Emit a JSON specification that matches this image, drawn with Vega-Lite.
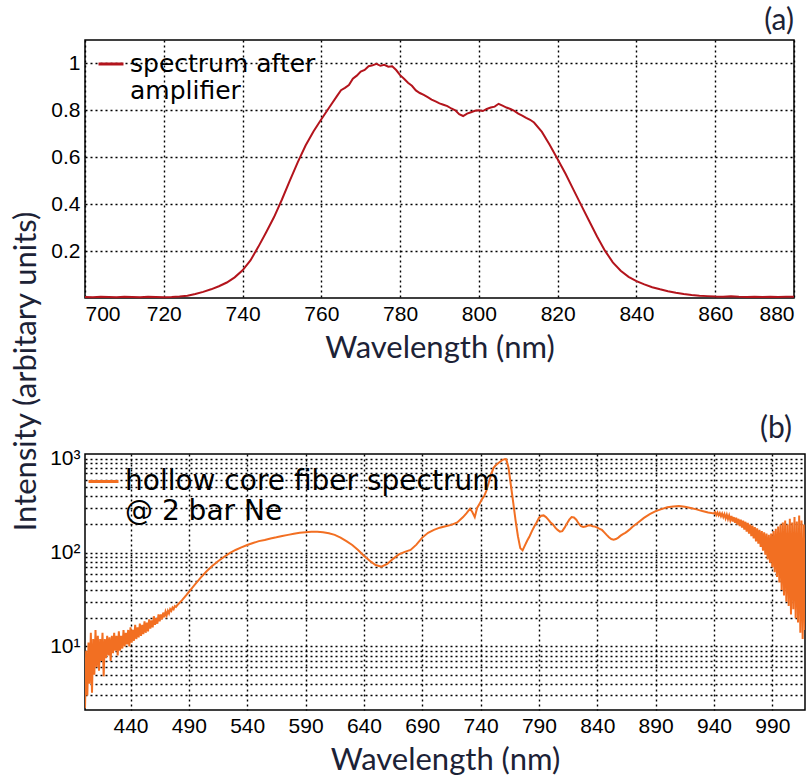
{
  "$schema": "https://vega.github.io/schema/vega-lite/v6.json",
  "padding": {"left": 10, "top": 5, "right": 0, "bottom": 0},
  "bounds": "flush",
  "spacing": 156,
  "title": {"text": "Intensity (arbitary units)", "orient": "left", "anchor": "middle", "frame": "bounds", "font": "Lato", "fontSize": 31, "fontWeight": "normal", "color": "#1c2236", "offset": 6, "dx": 19},
  "config": {
    "view": {"stroke": "black", "strokeWidth": 1.5},
    "axis": {"labelFont": "Liberation Sans", "labelFontSize": 21, "labelColor": "black", "titleFont": "Lato", "titleFontSize": 31, "titleFontWeight": "normal", "titleColor": "#1c2236", "grid": true, "gridColor": "black", "gridDash": [2, 3], "gridWidth": 1.4, "gridOpacity": 1, "domain": false, "ticks": false, "labelPadding": 5, "titlePadding": 9, "labelOverlap": false},
    "title": {"font": "Lato", "fontSize": 30, "fontWeight": "normal", "color": "#1c2236", "anchor": "end"},
    "legend": {"labelFont": "DejaVu Sans", "labelColor": "black", "labelLimit": 800, "symbolType": "stroke", "symbolStrokeWidth": 3, "padding": 0, "labelOffset": 5}
  },
  "datasets": {
    "amp": [
      {"wl":700,"I":0.004},{"wl":702,"I":0.003},{"wl":704,"I":0.005},{"wl":706,"I":0.004},{"wl":708,"I":0.003},{"wl":710,"I":0.005},{"wl":712,"I":0.004},{"wl":714,"I":0.003},{"wl":716,"I":0.005},{"wl":718,"I":0.004},{"wl":720,"I":0.003},{"wl":722,"I":0.004},{"wl":724,"I":0.006},{"wl":726,"I":0.010},{"wl":728,"I":0.017},{"wl":730,"I":0.026},{"wl":732,"I":0.037},{"wl":734,"I":0.050},{"wl":736,"I":0.066},{"wl":738,"I":0.088},{"wl":740,"I":0.118},{"wl":742,"I":0.160},{"wl":744,"I":0.218},{"wl":746,"I":0.280},{"wl":748,"I":0.345},{"wl":750,"I":0.420},{"wl":752,"I":0.500},{"wl":754,"I":0.578},{"wl":756,"I":0.650},{"wl":758,"I":0.710},{"wl":760,"I":0.762},{"wl":762,"I":0.812},{"wl":764,"I":0.862},{"wl":765,"I":0.886},{"wl":766,"I":0.896},{"wl":767,"I":0.908},{"wl":768,"I":0.935},{"wl":769,"I":0.948},{"wl":770,"I":0.965},{"wl":771,"I":0.972},{"wl":772,"I":0.988},{"wl":773,"I":0.992},{"wl":774,"I":0.998},{"wl":775,"I":0.990},{"wl":776,"I":0.994},{"wl":777,"I":0.986},{"wl":778,"I":0.988},{"wl":779,"I":0.972},{"wl":780,"I":0.950},{"wl":781,"I":0.935},{"wl":782,"I":0.918},{"wl":783,"I":0.905},{"wl":784,"I":0.885},{"wl":785,"I":0.874},{"wl":786,"I":0.866},{"wl":787,"I":0.856},{"wl":788,"I":0.846},{"wl":789,"I":0.838},{"wl":790,"I":0.830},{"wl":791,"I":0.824},{"wl":792,"I":0.818},{"wl":793,"I":0.808},{"wl":794,"I":0.800},{"wl":795,"I":0.784},{"wl":796,"I":0.776},{"wl":797,"I":0.786},{"wl":798,"I":0.792},{"wl":799,"I":0.798},{"wl":800,"I":0.800},{"wl":801,"I":0.797},{"wl":802,"I":0.806},{"wl":803,"I":0.812},{"wl":804,"I":0.816},{"wl":805,"I":0.828},{"wl":806,"I":0.820},{"wl":807,"I":0.812},{"wl":808,"I":0.806},{"wl":809,"I":0.798},{"wl":810,"I":0.786},{"wl":811,"I":0.778},{"wl":812,"I":0.768},{"wl":813,"I":0.760},{"wl":814,"I":0.748},{"wl":816,"I":0.708},{"wl":818,"I":0.652},{"wl":820,"I":0.592},{"wl":822,"I":0.530},{"wl":824,"I":0.462},{"wl":826,"I":0.395},{"wl":828,"I":0.328},{"wl":830,"I":0.262},{"wl":832,"I":0.202},{"wl":834,"I":0.152},{"wl":836,"I":0.116},{"wl":838,"I":0.090},{"wl":840,"I":0.072},{"wl":842,"I":0.058},{"wl":844,"I":0.046},{"wl":846,"I":0.037},{"wl":848,"I":0.029},{"wl":850,"I":0.022},{"wl":852,"I":0.017},{"wl":854,"I":0.013},{"wl":856,"I":0.010},{"wl":858,"I":0.008},{"wl":860,"I":0.006},{"wl":862,"I":0.005},{"wl":864,"I":0.007},{"wl":866,"I":0.005},{"wl":868,"I":0.004},{"wl":870,"I":0.005},{"wl":872,"I":0.004},{"wl":874,"I":0.005},{"wl":876,"I":0.004},{"wl":878,"I":0.005},{"wl":880,"I":0.005}
    ],
    "hcf": [
      {"wl":401,"I":2.2},{"wl":402,"I":9},{"wl":403,"I":3},{"wl":404,"I":11},{"wl":405,"I":4},{"wl":406,"I":14},{"wl":407,"I":3.2},{"wl":408,"I":12},{"wl":409,"I":5},{"wl":410,"I":15},{"wl":411,"I":6},{"wl":412,"I":13},{"wl":413,"I":5.5},{"wl":414,"I":12},{"wl":415,"I":7},{"wl":416,"I":14},{"wl":417,"I":4.8},{"wl":418,"I":12},{"wl":419,"I":7.5},{"wl":420,"I":13},{"wl":421,"I":8},{"wl":422,"I":12.5},{"wl":423,"I":7},{"wl":424,"I":13},{"wl":425,"I":8.5},{"wl":426,"I":14},{"wl":427,"I":9},{"wl":428,"I":13},{"wl":429,"I":8},{"wl":430,"I":14.5},{"wl":431,"I":9},{"wl":432,"I":13},{"wl":433,"I":9.5},{"wl":434,"I":15},{"wl":435,"I":10},{"wl":436,"I":14},{"wl":437,"I":10.5},{"wl":438,"I":15},{"wl":439,"I":10},{"wl":440,"I":16},{"wl":441,"I":11},{"wl":442,"I":15},{"wl":443,"I":11.5},{"wl":444,"I":17},{"wl":445,"I":12},{"wl":446,"I":16},{"wl":447,"I":12.5},{"wl":448,"I":17.5},{"wl":449,"I":13},{"wl":450,"I":17},{"wl":451,"I":13.5},{"wl":452,"I":18.5},{"wl":453,"I":14},{"wl":454,"I":18},{"wl":455,"I":14.5},{"wl":456,"I":19.5},{"wl":457,"I":15.5},{"wl":458,"I":19},{"wl":459,"I":16},{"wl":460,"I":21},{"wl":461,"I":17},{"wl":462,"I":20},{"wl":463,"I":17.5},{"wl":464,"I":22},{"wl":465,"I":18.5},{"wl":466,"I":22},{"wl":467,"I":19.5},{"wl":468,"I":23},{"wl":469,"I":20.5},{"wl":470,"I":23.5},{"wl":471,"I":21.5},{"wl":472,"I":24},{"wl":473,"I":22.5},{"wl":474,"I":25},{"wl":475,"I":24},{"wl":476,"I":26},{"wl":477,"I":25},{"wl":478,"I":27},{"wl":479,"I":26.5},{"wl":480,"I":27.5},
      {"wl":484,"I":31},{"wl":488,"I":35.5},{"wl":492,"I":41},{"wl":496,"I":47},{"wl":500,"I":54},{"wl":505,"I":63},{"wl":510,"I":72},{"wl":515,"I":81},{"wl":520,"I":90},{"wl":525,"I":99},{"wl":530,"I":107},{"wl":535,"I":114},{"wl":540,"I":121},{"wl":545,"I":127},{"wl":550,"I":133},{"wl":555,"I":137},{"wl":560,"I":142},{"wl":565,"I":146},{"wl":570,"I":151},{"wl":575,"I":155},{"wl":580,"I":159},{"wl":585,"I":163},{"wl":590,"I":165},{"wl":595,"I":167},{"wl":600,"I":167},{"wl":605,"I":165},{"wl":610,"I":161},{"wl":615,"I":155},{"wl":620,"I":145},{"wl":625,"I":133},{"wl":630,"I":121},{"wl":635,"I":107},{"wl":640,"I":93},{"wl":645,"I":82},{"wl":650,"I":74},{"wl":655,"I":71},{"wl":660,"I":76},{"wl":665,"I":86},{"wl":670,"I":96},{"wl":675,"I":102},{"wl":680,"I":107},{"wl":685,"I":122},{"wl":690,"I":145},{"wl":695,"I":163},{"wl":700,"I":175},{"wl":705,"I":185},{"wl":710,"I":192},{"wl":715,"I":198},{"wl":720,"I":210},{"wl":725,"I":240},{"wl":728,"I":265},{"wl":731,"I":295},{"wl":733,"I":270},{"wl":735,"I":240},{"wl":737,"I":300},{"wl":739,"I":330},{"wl":741,"I":370},{"wl":743,"I":400},{"wl":745,"I":460},{"wl":747,"I":560},{"wl":749,"I":680},{"wl":751,"I":800},{"wl":753,"I":860},{"wl":755,"I":900},{"wl":757,"I":940},{"wl":759,"I":980},{"wl":761,"I":1000},{"wl":762,"I":990},{"wl":764,"I":800},{"wl":766,"I":520},{"wl":768,"I":340},{"wl":770,"I":220},{"wl":772,"I":150},{"wl":774,"I":112},{"wl":776,"I":106},{"wl":778,"I":120},{"wl":780,"I":135},{"wl":782,"I":150},{"wl":784,"I":170},{"wl":786,"I":190},{"wl":788,"I":210},{"wl":790,"I":235},{"wl":792,"I":248},{"wl":794,"I":250},{"wl":796,"I":240},{"wl":798,"I":225},{"wl":800,"I":210},{"wl":802,"I":200},{"wl":804,"I":185},{"wl":806,"I":175},{"wl":808,"I":168},{"wl":810,"I":170},{"wl":812,"I":185},{"wl":814,"I":205},{"wl":816,"I":225},{"wl":818,"I":240},{"wl":820,"I":238},{"wl":822,"I":225},{"wl":824,"I":205},{"wl":826,"I":192},{"wl":828,"I":188},{"wl":830,"I":190},{"wl":832,"I":195},{"wl":834,"I":196},{"wl":836,"I":192},{"wl":838,"I":190},{"wl":840,"I":185},{"wl":842,"I":180},{"wl":844,"I":175},{"wl":846,"I":165},{"wl":848,"I":155},{"wl":850,"I":146},{"wl":852,"I":140},{"wl":854,"I":138},{"wl":856,"I":140},{"wl":858,"I":145},{"wl":860,"I":152},{"wl":862,"I":158},{"wl":864,"I":163},{"wl":866,"I":170},{"wl":868,"I":178},{"wl":870,"I":188},{"wl":875,"I":210},{"wl":880,"I":235},{"wl":885,"I":258},{"wl":890,"I":278},{"wl":895,"I":292},{"wl":900,"I":305},{"wl":905,"I":312},{"wl":910,"I":315},{"wl":915,"I":310},{"wl":920,"I":300},{"wl":925,"I":290},{"wl":930,"I":278},{"wl":935,"I":268},{"wl":940,"I":262},
      {"wl":941,"I":270},{"wl":942,"I":252},{"wl":943,"I":268},{"wl":944,"I":250},{"wl":945,"I":265},{"wl":946,"I":245},{"wl":947,"I":262},{"wl":948,"I":240},{"wl":949,"I":258},{"wl":950,"I":232},{"wl":951,"I":255},{"wl":952,"I":228},{"wl":953,"I":250},{"wl":954,"I":222},{"wl":955,"I":246},{"wl":956,"I":215},{"wl":957,"I":240},{"wl":958,"I":208},{"wl":959,"I":236},{"wl":960,"I":200},{"wl":961,"I":230},{"wl":962,"I":192},{"wl":963,"I":225},{"wl":964,"I":185},{"wl":965,"I":220},{"wl":966,"I":176},{"wl":967,"I":214},{"wl":968,"I":168},{"wl":969,"I":208},{"wl":970,"I":160},{"wl":971,"I":200},{"wl":972,"I":150},{"wl":973,"I":195},{"wl":974,"I":142},{"wl":975,"I":188},{"wl":976,"I":132},{"wl":977,"I":182},{"wl":978,"I":125},{"wl":979,"I":175},{"wl":980,"I":115},{"wl":981,"I":170},{"wl":982,"I":105},{"wl":983,"I":165},{"wl":984,"I":95},{"wl":985,"I":160},{"wl":986,"I":85},{"wl":987,"I":155},{"wl":988,"I":78},{"wl":989,"I":160},{"wl":990,"I":70},{"wl":991,"I":170},{"wl":992,"I":62},{"wl":993,"I":180},{"wl":994,"I":55},{"wl":995,"I":190},{"wl":996,"I":48},{"wl":997,"I":200},{"wl":998,"I":40},{"wl":999,"I":210},{"wl":1000,"I":35},{"wl":1001,"I":220},{"wl":1002,"I":30},{"wl":1003,"I":200},{"wl":1004,"I":27},{"wl":1005,"I":230},{"wl":1006,"I":22},{"wl":1007,"I":210},{"wl":1008,"I":25},{"wl":1009,"I":240},{"wl":1010,"I":20},{"wl":1011,"I":215},{"wl":1012,"I":18},{"wl":1013,"I":250},{"wl":1014,"I":14},{"wl":1015,"I":220},{"wl":1016,"I":12},{"wl":1017,"I":200},{"wl":1018,"I":15}
    ]
  },
  "vconcat": [
    {
      "title": {"text": "(a)", "anchor": "end", "offset": 4, "dx": -4},
      "width": 709,
      "height": 258,
      "data": {"name": "amp"},
      "mark": {"type": "line", "strokeWidth": 2},
      "encoding": {
        "x": {"field": "wl", "type": "quantitative", "scale": {"domain": [700, 880], "nice": false, "zero": false}, "axis": {"values": [700, 720, 740, 760, 780, 800, 820, 840, 860, 880], "title": "Wavelength (nm)"}},
        "y": {"field": "I", "type": "quantitative", "scale": {"domain": [0, 1.1], "nice": false}, "axis": {"values": [0.2, 0.4, 0.6, 0.8, 1], "format": "~g", "title": null}},
        "color": {"datum": "spectrum after amplifier", "scale": {"range": ["#b3141c"]}, "legend": {"orient": "none", "legendX": 12, "legendY": 10, "title": null, "symbolSize": 625, "labelFontSize": 25, "labelExpr": "['spectrum after', 'amplifier']"}}
      }
    },
    {
      "title": {"text": "(b)", "anchor": "end", "offset": 4, "dx": -13},
      "width": 720,
      "height": 256,
      "data": {"name": "hcf"},
      "mark": {"type": "line", "strokeWidth": 2, "clip": true},
      "encoding": {
        "x": {"field": "wl", "type": "quantitative", "scale": {"domain": [401, 1018], "nice": false, "zero": false}, "axis": {"values": [440, 490, 540, 590, 640, 690, 740, 790, 840, 890, 940, 990], "title": "Wavelength (nm)"}},
        "y": {"field": "I", "type": "quantitative", "scale": {"type": "log", "domain": [2.1, 1130], "nice": false}, "axis": {"values": [3, 4, 5, 6, 7, 8, 9, 10, 20, 30, 40, 50, 60, 70, 80, 90, 100, 200, 300, 400, 500, 600, 700, 800, 900, 1000], "labelExpr": "datum.value == 10 ? '10¹' : datum.value == 100 ? '10²' : datum.value == 1000 ? '10³' : ''", "title": null}},
        "color": {"datum": "hollow core fiber spectrum @ 2 bar Ne", "scale": {"range": ["#f26f22"]}, "legend": {"orient": "none", "legendX": 2, "legendY": 11, "title": null, "symbolSize": 900, "labelFontSize": 28, "labelExpr": "['hollow core fiber spectrum', '@ 2 bar Ne']"}}
      }
    }
  ],
  "resolve": {"scale": {"color": "independent"}, "legend": {"color": "independent"}}
}
